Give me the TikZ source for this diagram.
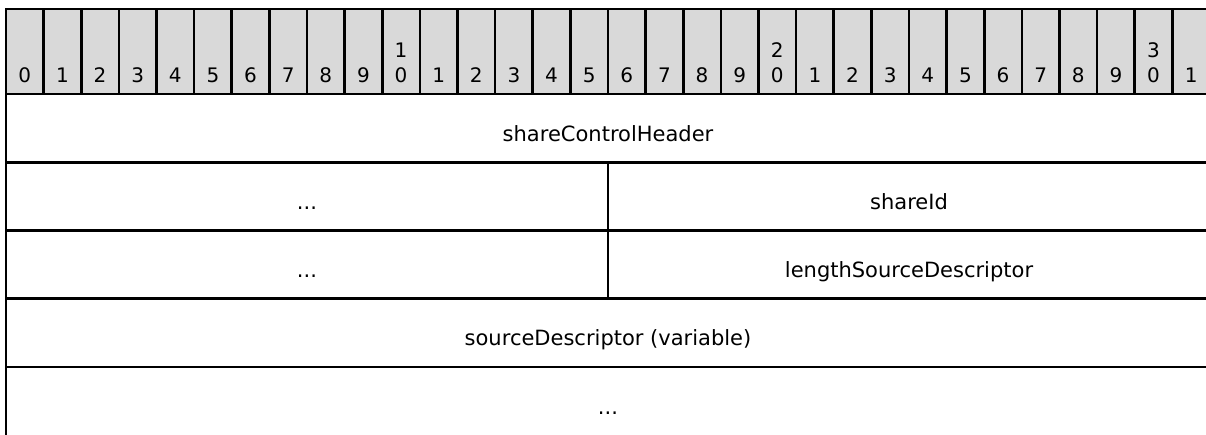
\documentclass[tikz,border=0pt]{standalone}
\usepackage{fontspec}
\setmainfont{DejaVu Sans}
\definecolor{headgray}{RGB}{217,217,217}
\definecolor{ink}{RGB}{0,0,0}
\begin{document}
\begin{tikzpicture}[x=1pt,y=-1pt,
  hcell/.style={draw=ink, fill=headgray, line width=2.6pt, inner sep=0pt, outer sep=0pt,
    minimum width=37.625pt, minimum height=85pt, anchor=north west},
  rowcell/.style={draw=ink, line width=2.6pt, inner sep=0pt, outer sep=0pt,
    minimum height=68.25pt, anchor=north west},
  digit/.style={inner sep=0pt, anchor=base, text=ink, font=\fontsize{20}{24}\selectfont},
  field/.style={inner sep=0pt, anchor=base, text=ink, font=\fontsize{21}{25}\selectfont}]
\useasboundingbox (0,0) rectangle (1206,435);
\clip (0,0) rectangle (1206,435);
% header
\foreach \i in {0,...,31} {
  \pgfmathsetmacro\xl{6+\i*37.625}
  \pgfmathtruncatemacro\u{mod(\i,10)}
  \pgfmathtruncatemacro\t{\i/10}
  \node[hcell] (h\i) at (\xl,9) {};
  \node[digit] (d\i) at ([yshift=11.3pt]h\i.south) {\u};
  \ifnum\u=0 \ifnum\i>0
    \node[digit] (t\i) at ([yshift=36.3pt]h\i.south) {\t};
  \fi\fi
}
% rows
\node[rowcell, minimum width=1204pt] (r1) at (6,94) {};
\node[rowcell, minimum width=602pt] (r2a) at (6,162.25) {};
\node[rowcell, minimum width=602pt] (r2b) at (608,162.25) {};
\node[rowcell, minimum width=602pt] (r3a) at (6,230.5) {};
\node[rowcell, minimum width=602pt] (r3b) at (608,230.5) {};
\node[rowcell, minimum width=1204pt] (r4) at (6,298.75) {};
\node[rowcell, minimum width=1204pt, minimum height=72pt] (r5) at (6,367) {};
% labels
\node[field] (l1) at ([yshift=-13pt]r1.center) {shareControlHeader};
\node[field] (l2a) at ([yshift=-13pt]r2a.center) {...};
\node[field] (l2b) at ([yshift=-13pt]r2b.center) {shareId};
\node[field] (l3a) at ([yshift=-13pt]r3a.center) {...};
\node[field] (l3b) at ([yshift=-13pt]r3b.center) {lengthSourceDescriptor};
\node[field] (l4) at ([yshift=-13pt]r4.center) {sourceDescriptor (variable)};
\node[field] (l5) at ([yshift=-11pt]r5.center) {...};
\end{tikzpicture}
\end{document}
